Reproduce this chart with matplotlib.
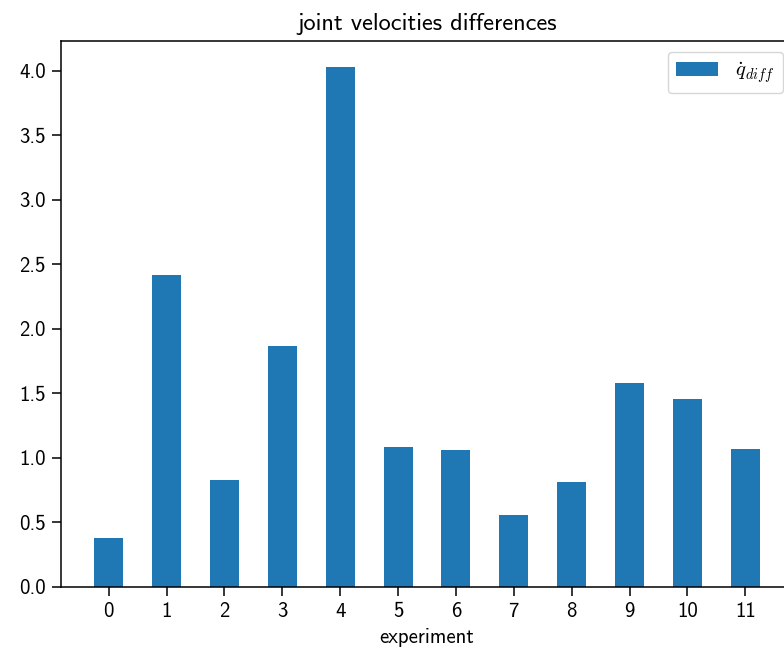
import matplotlib
matplotlib.use("Agg")
import matplotlib.pyplot as plt

experiments = list(range(12))
qdot_diff = [0.378, 2.415, 0.831, 1.864, 4.028, 1.087, 1.064, 0.559, 0.816, 1.577, 1.460, 1.072]

plt.rcParams['font.family'] = ['cmss10', 'DejaVu Sans']
plt.rcParams['mathtext.fontset'] = 'cm'
plt.rcParams['axes.unicode_minus'] = False
plt.rcParams['font.size'] = 15
plt.rcParams['axes.linewidth'] = 1.1
for axis in ('xtick', 'ytick'):
    plt.rcParams[f'{axis}.major.size'] = 6.5
    plt.rcParams[f'{axis}.major.width'] = 1.1
    plt.rcParams[f'{axis}.major.pad'] = 4.5

fig = plt.figure(figsize=(7.84, 6.51), dpi=100)
ax = fig.add_axes([61 / 784, 64 / 651, 732 / 784, 546 / 651])

ax.bar(experiments, qdot_diff, width=0.5, color='#1f77b4', label=r'$\dot{q}_{diff}$')
ax.set_xticks(experiments)
ax.set_xticklabels([str(e) for e in experiments])
ax.tick_params(labelsize=15)
ax.set_xlabel('experiment', fontsize=15, labelpad=5)
ax.set_title('joint velocities differences', fontsize=17.5, pad=8)

ax.legend(loc='upper right', bbox_to_anchor=(783 / 784, 1 - 52 / 651),
          bbox_transform=fig.transFigure, borderaxespad=0, fontsize=15)

fig.savefig('out.png', dpi=100)
